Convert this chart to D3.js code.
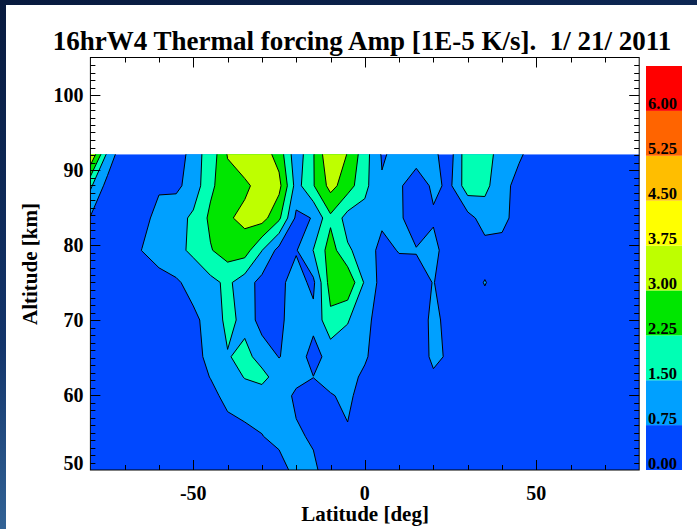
<!DOCTYPE html>
<html>
<head>
<meta charset="utf-8">
<script src="https://cdnjs.cloudflare.com/ajax/libs/d3/7.8.5/d3.min.js"></script>
<style>
  html, body { margin: 0; padding: 0; }
  body { width: 697px; height: 529px; overflow: hidden; background: #0c2250; }
  svg { display: block; }
  text { font-family: "Liberation Serif", "Times New Roman", serif; font-weight: bold; fill: #000; }
</style>
</head>
<body>
<svg></svg>
<script>
// grid columns (latitude, deg) and rows (altitude, km, top to bottom)
const lats = [-80, -75, -70, -65, -60, -55, -50, -45, -40, -35, -30, -25, -20, -15, -10, -5,
              0, 5, 10, 15, 20, 25, 30, 35, 40, 45, 50, 55, 60, 65, 70, 75, 80];
const alts = [92.1, 87.9, 83.6, 79.3, 75.0, 70.0, 65.1, 62.4, 59.9, 54.5, 50.0];

// amplitude [1E-5 K/s], one row per altitude
const amp = [
  [3.74, 1.3, 0.1, 0.1, 0.1, 0.1, 1.24, 1.76, 3.05, 3.5, 3.4, 2.7, 1.0, 2.2, 3.7, 2.96, 1.81, 0.68, 0.93, 1.0, 0.84, 0.51, 2.01, 1.9, 1.1, 0.85, 0.43, 0.3, 0.25, 0.2, 0.2, 0.15, 0.15],
  [1.62, 0.48, 0.1, 0.1, 0.67, 0.6, 1.05, 2.1, 2.7, 2.85, 3.3, 3.23, 1.2, 2.2, 3.25, 2.6, 1.7, 0.82, 0.83, 0.44, 0.85, 0.65, 1.95, 1.7, 1.0, 0.5, 0.3, 0.25, 0.2, 0.2, 0.15, 0.15, 0.1],
  [0.7, 0.3, 0.2, 0.55, 0.95, 1.2, 1.65, 2.4, 2.9, 3.2, 3.3, 2.4, 0.6, 0.78, 2.1, 1.2, 1.2, 0.92, 0.9, 0.26, 0.68, 0.3, 0.47, 1.1, 1.2, 0.1, 0.2, 0.25, 0.2, 0.2, 0.15, 0.15, 0.15],
  [0.2, 0.2, 0.4, 0.76, 1.05, 1.3, 1.65, 2.2, 2.6, 2.6, 1.52, 0.5, 0.7, 1.52, 2.6, 1.6, 1.2, 0.49, 0.8, 0.8, 0.93, 0.4, 0.2, 0.45, 0.2, 0.2, 0.2, 0.25, 0.2, 0.2, 0.2, 0.15, 0.15],
  [0.1, 0.1, 0.15, 0.3, 0.5, 0.65, 1.0, 1.3, 1.65, 1.1, 0.5, 0.6, 1.0, 0.6, 2.6, 2.87, 1.4, 0.47, 0.3, 0.4, 0.78, 0.3, 0.45, 0.78, 0.45, 0.3, 0.25, 0.2, 0.2, 0.25, 0.2, 0.2, 0.15],
  [0.1, 0.1, 0.1, 0.15, 0.2, 0.2, 0.6, 1.0, 1.7, 1.3, 0.4, 0.6, 1.1, 0.94, 2.05, 1.55, 1.0, 0.35, 0.2, 0.17, 1.0, 0.4, 0.3, 0.45, 0.3, 0.25, 0.2, 0.2, 0.25, 0.2, 0.2, 0.15, 0.15],
  [0.1, 0.1, 0.1, 0.1, 0.15, 0.2, 0.5, 0.95, 1.45, 1.7, 1.25, 0.72, 1.1, 0.5, 1.0, 1.1, 0.85, 0.3, 0.2, 0.17, 0.95, 0.6, 0.3, 0.3, 0.25, 0.2, 0.2, 0.2, 0.2, 0.2, 0.15, 0.15, 0.15],
  [0.1, 0.1, 0.1, 0.1, 0.1, 0.15, 0.45, 0.77, 1.1, 1.54, 1.7, 1.2, 0.95, 0.76, 0.95, 1.0, 0.6, 0.3, 0.2, 0.2, 0.61, 0.3, 0.25, 0.25, 0.2, 0.2, 0.2, 0.2, 0.15, 0.15, 0.15, 0.15, 0.15],
  [0.15, 0.15, 0.15, 0.15, 0.2, 0.2, 0.3, 0.55, 0.95, 1.1, 1.2, 1.1, 0.62, 0.5, 0.71, 0.86, 0.52, 0.3, 0.25, 0.2, 0.3, 0.25, 0.2, 0.2, 0.2, 0.2, 0.2, 0.2, 0.15, 0.15, 0.15, 0.15, 0.15],
  [0.2, 0.2, 0.2, 0.2, 0.2, 0.2, 0.25, 0.3, 0.44, 0.56, 0.72, 1.05, 0.85, 0.66, 0.4, 0.69, 0.4, 0.3, 0.25, 0.2, 0.2, 0.2, 0.2, 0.2, 0.2, 0.2, 0.15, 0.15, 0.15, 0.15, 0.15, 0.15, 0.15],
  [0.2, 0.2, 0.2, 0.2, 0.2, 0.2, 0.2, 0.2, 0.2, 0.2, 0.2, 0.3, 1.1, 0.88, 0.4, 0.5, 0.3, 0.25, 0.2, 0.2, 0.2, 0.2, 0.2, 0.15, 0.15, 0.15, 0.15, 0.15, 0.15, 0.15, 0.15, 0.15, 0.15]
];

// contour levels and colour bar
const levels = [0.75, 1.5, 2.25, 3.0, 3.75, 4.5, 5.25, 6.0];
const barEdges = [0, 0.75, 1.5, 2.25, 3.0, 3.75, 4.5, 5.25, 6.0, 6.75];
const barLabels = ['0.00', '0.75', '1.50', '2.25', '3.00', '3.75', '4.50', '5.25', '6.00'];
const bandColors = ['#0048ff', '#00a0ff', '#00ffb4', '#00e600', '#beff00', '#ffff00', '#ffbe00', '#ff6400', '#ff0000'];

const yMajor = [50, 60, 70, 80, 90, 100];
const xMajor = [-50, 0, 50];

const size = {w: 697, h: 529};
const plot = {l: 90.4, r: 639.2, t: 57.5, b: 470};

const svg = d3.select('svg').attr('width', size.w).attr('height', size.h);

// dark desktop-like background and white page
const defs = svg.append('defs');
const grad = defs.append('linearGradient').attr('id', 'bg')
    .attr('x1', 0).attr('y1', 0).attr('x2', 0.3).attr('y2', 1);
grad.append('stop').attr('offset', 0).attr('stop-color', '#081a3e');
grad.append('stop').attr('offset', 0.6).attr('stop-color', '#13356b');
grad.append('stop').attr('offset', 1).attr('stop-color', '#3a6ea0');
svg.append('rect').attr('width', size.w).attr('height', size.h).attr('fill', 'url(#bg)');
svg.append('rect').attr('x', 6).attr('y', 5).attr('width', size.w - 6).attr('height', size.h - 5).attr('fill', '#fff');

const x = d3.scaleLinear().domain([-80, 80]).range([plot.l, plot.r]);
const y = d3.scaleLinear().domain([50, 105]).range([plot.b, plot.t]);

// grid coordinates of d3.contours -> lat / alt
const nx = lats.length, ny = alts.length;
function latAt(gx) { return lats[0] + (gx - 0.5) * (lats[1] - lats[0]); }
function altAt(gy) {
    const j = gy - 0.5;
    if (j <= 0) return alts[0] + (alts[0] - alts[1]) * -j;
    if (j >= ny - 1) return alts[ny - 1] - (alts[ny - 2] - alts[ny - 1]) * (j - ny + 1);
    const k = Math.floor(j), f = j - k;
    return alts[k] + (alts[k + 1] - alts[k]) * f;
}
const proj = d3.geoTransform({
    point: function (gx, gy) { this.stream.point(x(latAt(gx)), y(altAt(gy))); }
});
const path = d3.geoPath(proj);

const bands = d3.contours().size([nx, ny]).thresholds(levels)(amp.flat());

defs.append('clipPath').attr('id', 'dataClip')
  .append('rect')
    .attr('x', x(lats[0])).attr('y', y(alts[0]))
    .attr('width', x(lats[nx - 1]) - x(lats[0]))
    .attr('height', y(alts[ny - 1]) - y(alts[0]));

const g = svg.append('g').attr('clip-path', 'url(#dataClip)');
g.append('rect')
    .attr('x', x(lats[0])).attr('y', y(alts[0]))
    .attr('width', x(lats[nx - 1]) - x(lats[0]))
    .attr('height', y(alts[ny - 1]) - y(alts[0]))
    .attr('fill', bandColors[0]);
g.selectAll('path.fill')
    .data(bands)
    .enter()
    .append('path')
    .attr('class', 'fill')
    .attr('d', path)
    .attr('fill', (d, i) => bandColors[i + 1]);
g.selectAll('path.line')
    .data(bands)
    .enter()
    .append('path')
    .attr('class', 'line')
    .attr('d', path)
    .attr('fill', 'none')
    .attr('stroke', '#000')
    .attr('stroke-width', 1);

// frame and ticks on all four sides
const axes = svg.append('g').attr('stroke', '#000').attr('stroke-width', 1).attr('fill', 'none');
axes.append('rect')
    .attr('x', plot.l).attr('y', plot.t)
    .attr('width', plot.r - plot.l).attr('height', plot.b - plot.t);

const yTicks = d3.range(51, 105);
yTicks.forEach(function (v) {
    const len = yMajor.includes(v) ? 10 : 5;
    const yy = Math.round(y(v)) + 0.5;
    axes.append('line').attr('x1', plot.l).attr('x2', plot.l + len).attr('y1', yy).attr('y2', yy);
    axes.append('line').attr('x1', plot.r).attr('x2', plot.r - len).attr('y1', yy).attr('y2', yy);
});
const xTicks = d3.range(-70, 80, 10);
xTicks.forEach(function (v) {
    const len = xMajor.includes(v) ? 10 : 5;
    const xx = Math.round(x(v)) + 0.5;
    axes.append('line').attr('x1', xx).attr('x2', xx).attr('y1', plot.b).attr('y2', plot.b - len);
    axes.append('line').attr('x1', xx).attr('x2', xx).attr('y1', plot.t).attr('y2', plot.t + len);
});

// tick labels
svg.selectAll('text.ylab')
    .data(yMajor)
    .enter()
    .append('text')
    .attr('x', plot.l - 7)
    .attr('y', (d) => d === 50 ? plot.b - 0.5 : y(d) + 7)
    .attr('text-anchor', 'end')
    .attr('font-size', 20)
    .text((d) => d);
svg.selectAll('text.xlab')
    .data(xMajor)
    .enter()
    .append('text')
    .attr('x', (d) => x(d))
    .attr('y', 500)
    .attr('text-anchor', 'middle')
    .attr('font-size', 20)
    .text((d) => d);

svg.append('text')
    .attr('x', 365).attr('y', 521)
    .attr('text-anchor', 'middle')
    .attr('font-size', 21)
    .text('Latitude [deg]');
svg.append('text')
    .attr('transform', 'translate(37,264) rotate(-90)')
    .attr('text-anchor', 'middle')
    .attr('font-size', 21)
    .text('Altitude [km]');

svg.append('text')
    .attr('x', 362).attr('y', 50)
    .attr('text-anchor', 'middle')
    .attr('font-size', 27)
    .style('white-space', 'pre')
    .text('16hrW4 Thermal forcing Amp [1E-5 K/s].  1/ 21/ 2011');

// colour bar
const yc = d3.scaleLinear().domain([0, 6.75]).range([470, 66]);
const bar = svg.append('g');
bar.selectAll('rect')
    .data(bandColors)
    .enter()
    .append('rect')
    .attr('x', 646)
    .attr('width', 36)
    .attr('y', (d, i) => yc(barEdges[i + 1]))
    .attr('height', (d, i) => yc(barEdges[i]) - yc(barEdges[i + 1]))
    .attr('fill', (d) => d);
bar.selectAll('text')
    .data(barLabels)
    .enter()
    .append('text')
    .attr('x', 648)
    .attr('y', (d, i) => yc(barEdges[i]) - 1.5)
    .attr('font-size', 16.5)
    .text((d) => d);
</script>
</body>
</html>
